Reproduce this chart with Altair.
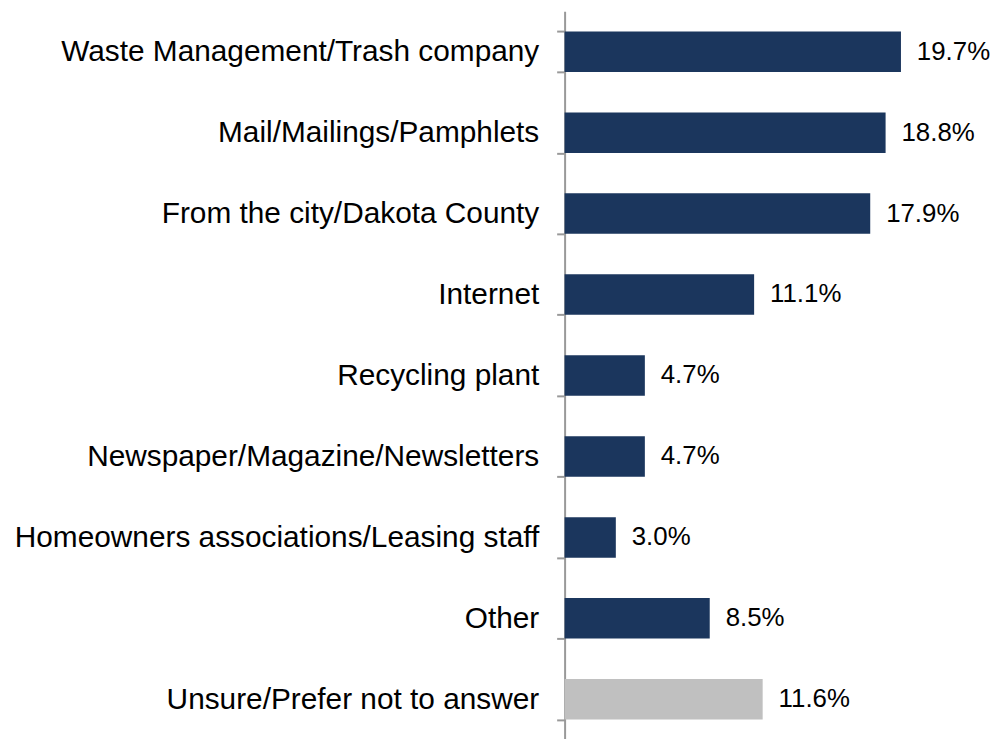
import altair as alt
import pandas as pd

categories = [
    "Waste Management/Trash company",
    "Mail/Mailings/Pamphlets",
    "From the city/Dakota County",
    "Internet",
    "Recycling plant",
    "Newspaper/Magazine/Newsletters",
    "Homeowners associations/Leasing staff",
    "Other",
    "Unsure/Prefer not to answer",
]
values = [19.7, 18.8, 17.9, 11.1, 4.7, 4.7, 3.0, 8.5, 11.6]
groups = ["main"] * 8 + ["unsure"]

df = pd.DataFrame({"cat": categories, "val": values, "grp": groups})
df["label"] = df["val"].map(lambda v: f"{v:.1f}%")

y = alt.Y(
    "cat:N",
    sort=categories,
    title=None,
    scale=alt.Scale(paddingInner=0.5, paddingOuter=0.25),
    axis=alt.Axis(
        tickBand="extent",
        tickSize=8,
        tickColor="#999999",
        domainColor="#999999",
        tickWidth=2,
        domainWidth=2,
        labelFontSize=30,
        labelFont="Liberation Sans",
        labelColor="#000000",
        labelPadding=18,
        labelLimit=600,
    ),
)
x = alt.X(
    "val:Q",
    scale=alt.Scale(domain=[0, 24.45]),
    axis=None,
)

bars = alt.Chart(df).mark_bar().encode(
    y=y,
    x=x,
    color=alt.Color(
        "grp:N",
        scale=alt.Scale(domain=["main", "unsure"], range=["#1b365d", "#c0c0c0"]),
        legend=None,
    ),
)

text = alt.Chart(df).mark_text(
    align="left", baseline="middle", dx=16, fontSize=26, font="Liberation Sans", color="#000000"
).encode(y=y, x=x, text="label:N")

chart = (
    alt.layer(bars, text)
    .properties(
        width=420,
        height=733,
        autosize=alt.AutoSizeParams(type="none"),
        padding={"left": 560, "top": 1, "right": 10, "bottom": 0},
    )
    .configure_view(stroke=None)
)

chart.save("out.html", embed_options={"renderer": "svg", "actions": False})
